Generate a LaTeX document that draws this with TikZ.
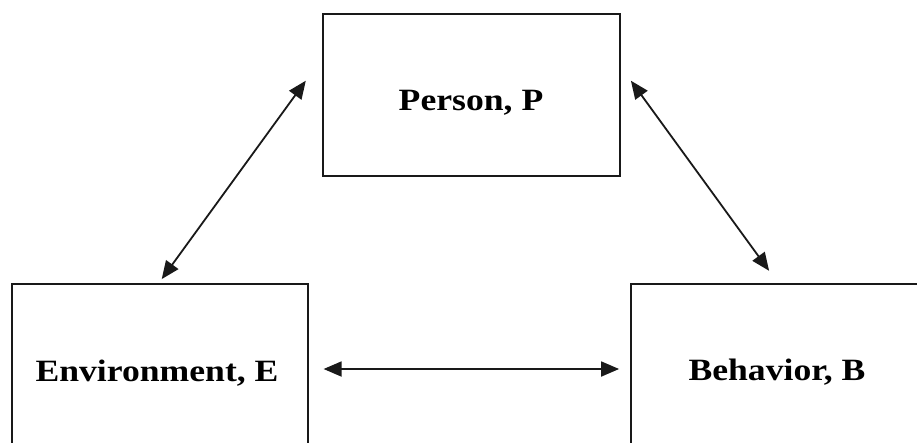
\documentclass[tikz,border=0pt]{standalone}
\usepackage{fontspec}
\setmainfont{Liberation Serif}
\newfontfamily\lblfont[FakeStretch=1.15]{Liberation Serif}
\usetikzlibrary{arrows.meta}
\begin{document}
\begin{tikzpicture}[x=1pt,y=-1pt,
  box/.style={draw=black!90,line width=1.8pt,rectangle,inner sep=0pt},
  lbl/.style={anchor=base,inner sep=0pt,font=\lblfont\bfseries\fontsize{31}{36}\selectfont},
  tip/.style={Triangle[length=18pt,width=15pt]},
  link/.style={line width=1.8pt,draw=black!90,{Triangle[length=18pt,width=15pt]}-{Triangle[length=18pt,width=15pt]}}]
  \clip (0,0) rectangle (917,442);
  \fill[white] (0,0) rectangle (917,442);
  % the three boxes
  \node[box,minimum width=297.3pt,minimum height=161.4pt] (P) at (471.35,95) {};
  \node[box,minimum width=296.6pt,minimum height=180pt] (E) at (160,374.3) {};
  \node[box,minimum width=300pt,minimum height=180pt] (B) at (781,374) {};
  % their labels
  \node[lbl] (Pt) at (471,110) {Person, P};
  \node[lbl] (Et) at (157,381) {Environment, E};
  \node[lbl] (Bt) at (777,380) {Behavior, B};
  % two-way links
  \draw[link] ([shift={(-16,-14.3)}]P.west) -- ([shift={(1.7,-4.3)}]E.north);
  \draw[link] ([shift={(10,-14.3)}]P.east) -- ([shift={(139,-12.3)}]B.north west);
  \draw[link] ([shift={(14.4,-5.3)}]E.east) -- ([shift={(-11,-5)}]B.west);
\end{tikzpicture}
\end{document}
